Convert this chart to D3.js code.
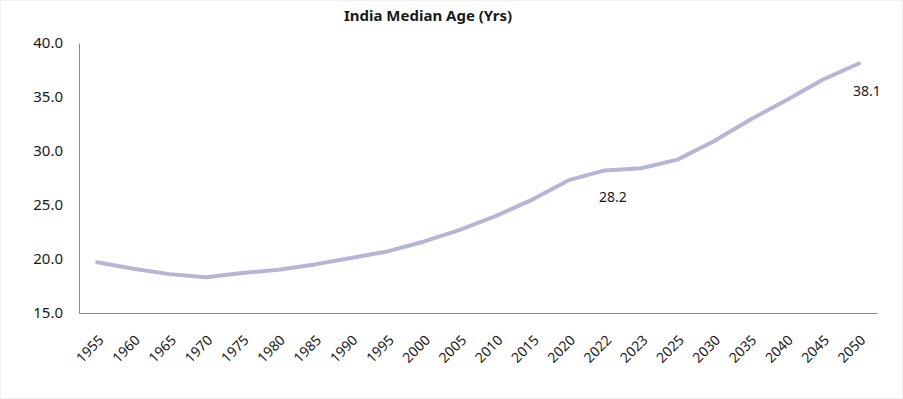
<!DOCTYPE html>
<html>
<head>
<meta charset="UTF-8">
<title>India Median Age</title>
<script src="https://d3js.org/d3.v7.min.js"></script>
<style>
	body { margin: 0; background: #fff; }
	text { font-family: "Noto Sans", "Open Sans", sans-serif; fill: #1a1a1a; }
</style>
</head>
<body>
<script>
	// data
	var years = ["1955", "1960", "1965", "1970", "1975", "1980", "1985", "1990", "1995", "2000", "2005",
		"2010", "2015", "2020", "2022", "2023", "2025", "2030", "2035", "2040", "2045", "2050"];
	var medianAge = [19.7, 19.1, 18.6, 18.3, 18.7, 19.0, 19.5, 20.1, 20.7, 21.6, 22.7,
		24.0, 25.5, 27.3, 28.2, 28.4, 29.2, 30.9, 32.9, 34.7, 36.6, 38.1];
	var labelledYears = ["2022", "2050"];
	var yTicks = [15, 20, 25, 30, 35, 40];

	var width = 903, height = 399;
	var margin = {top: 43, right: 26, bottom: 86, left: 79};
	var w = width - margin.left - margin.right,
		h = height - margin.top - margin.bottom;

	var svg = d3.select("body").append("svg")
		.attr("width", width)
		.attr("height", height);

	// faint chart frame
	svg.append("rect")
		.attr("x", 0.5).attr("y", 0.5)
		.attr("width", width - 1).attr("height", height - 1)
		.attr("fill", "none")
		.attr("stroke", "#f0f0f0");

	var g = svg.append("g")
		.attr("transform", "translate(" + margin.left + "," + margin.top + ")");

	var x = d3.scalePoint().domain(years).range([0, w]).padding(0.5);
	var y = d3.scaleLinear().domain([15, 40]).range([h, 0]);

	// title
	svg.append("text")
		.attr("x", 428)
		.attr("y", 21)
		.attr("text-anchor", "middle")
		.style("font-size", "15px")
		.style("font-weight", "bold")
		.text("India Median Age (Yrs)");

	// y axis
	var yAxis = g.append("g")
		.call(d3.axisLeft(y).tickValues(yTicks).tickSize(0).tickPadding(16)
			.tickFormat(d3.format(".1f")));
	yAxis.select(".domain").attr("stroke", "#8c8c8c");
	yAxis.selectAll("text")
		.style("font-size", "15px")
		.style("font-family", "\"Noto Sans\", sans-serif")
		.attr("fill", "#1a1a1a");

	// x axis
	var xAxis = g.append("g")
		.attr("transform", "translate(0," + h + ")")
		.call(d3.axisBottom(x).tickSize(0).tickPadding(0));
	xAxis.select(".domain").attr("stroke", "#8c8c8c");
	xAxis.selectAll("text")
		.style("font-size", "14px")
		.style("font-family", "\"Noto Sans\", sans-serif")
		.attr("fill", "#1a1a1a")
		.attr("text-anchor", "end")
		.attr("dy", null)
		.attr("y", 0)
		.attr("transform", "translate(7,28) rotate(-45)");

	// line
	var line = d3.line()
		.x(function(d, i) { return x(years[i]); })
		.y(function(d) { return y(d); });

	g.append("path")
		.attr("d", line(medianAge))
		.attr("fill", "none")
		.attr("stroke", "#b7b5d6")
		.attr("stroke-width", 4)
		.attr("stroke-linejoin", "round")
		.attr("stroke-linecap", "round");

	// data labels
	labelledYears.forEach(function(yr) {
		var i = years.indexOf(yr);
		g.append("text")
			.attr("x", x(yr) + 8)
			.attr("y", y(medianAge[i]) + 32)
			.attr("text-anchor", "middle")
			.style("font-size", "14px")
			.text(d3.format(".1f")(medianAge[i]));
	});
</script>
</body>
</html>
